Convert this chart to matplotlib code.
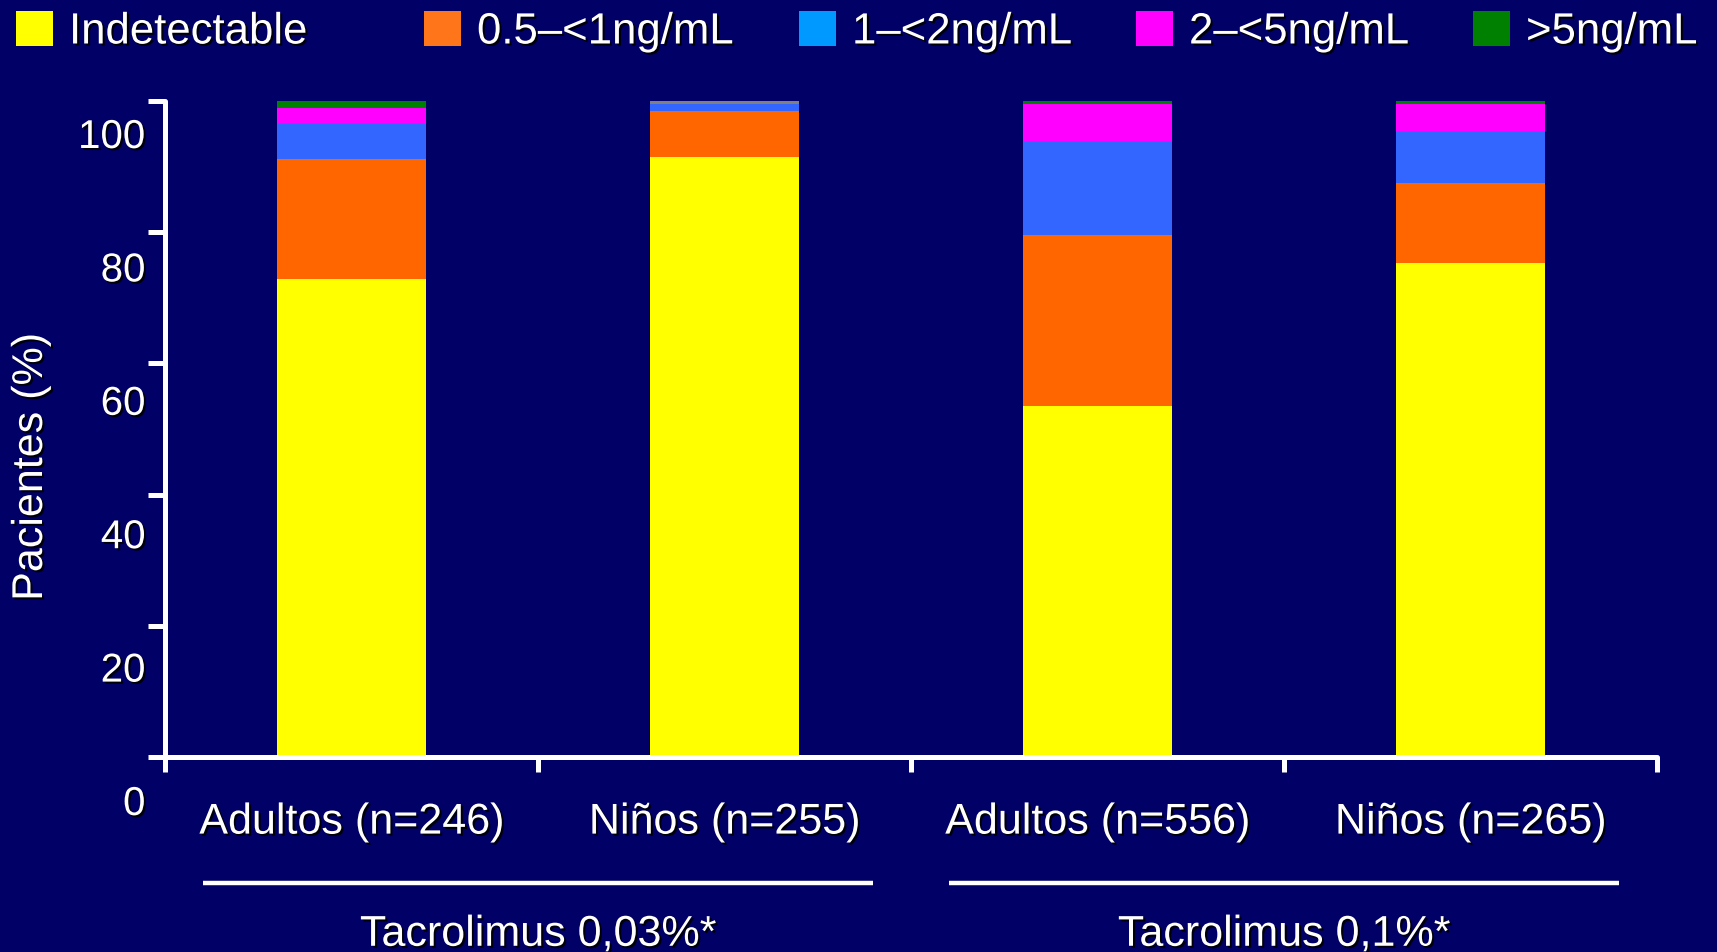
import matplotlib
matplotlib.use("Agg")
import matplotlib.pyplot as plt
import matplotlib.patheffects as pe
from matplotlib.patches import Rectangle
from matplotlib.transforms import ScaledTranslation, blended_transform_factory

# ---------------- Data ---------------- #
categories = ["Adultos (n=246)", "Niños (n=255)", "Adultos (n=556)", "Niños (n=265)"]
groups = ["Tacrolimus 0,03%*", "Tacrolimus 0,1%*"]
levels = ["Indetectable", "0.5\u2013<1ng/mL", "1\u2013<2ng/mL", "2\u2013<5ng/mL", ">5ng/mL"]

indetectable = [72.8, 91.5, 53.5, 75.3]
lvl_05_1 = [18.3, 7.0, 26.1, 12.2]
lvl_1_2 = [5.5, 1.0, 14.3, 8.0]
lvl_2_5 = [2.3, 0.5, 5.6, 4.0]
lvl_over5 = [1.1, 0.0, 0.5, 0.5]

yticks = [0, 20, 40, 60, 80, 100]

# ---------------- Style ---------------- #
BG = "#000066"
FONT = ["Liberation Sans", "DejaVu Sans"]
bar_colors = ["#FFFF00", "#FF6600", "#3366FF", "#FF00FF", "#008000"]
legend_colors = ["#FFFF00", "#FF751A", "#0099FF", "#FF00FF", "#008000"]
# one segment in the second bar is drawn grey
seg_override = {(1, 3): "#808080"}

plt.rcParams["font.family"] = FONT
shadow = [pe.withSimplePatchShadow(offset=(1.5, -1.5), shadow_rgbFace="black", alpha=0.9)]

W, H = 1717, 952
fig = plt.figure(figsize=(W / 100, H / 100), dpi=100, facecolor=BG)
ax = fig.add_axes([165 / W, 1 - 757 / H, (1657 - 165) / W, (757 - 101) / H], facecolor=BG)

series = [indetectable, lvl_05_1, lvl_1_2, lvl_2_5, lvl_over5]
x = list(range(len(categories)))
bottom = [0.0] * len(categories)
for si, vals in enumerate(series):
    cols = [seg_override.get((i, si), bar_colors[si]) for i in x]
    ax.bar(x, vals, width=0.402, bottom=bottom, color=cols, linewidth=0, zorder=2)
    bottom = [b + v for b, v in zip(bottom, vals)]

ax.set_xlim(-0.5, len(categories) - 0.5)
ax.set_ylim(0, 100)

for side in ["top", "right"]:
    ax.spines[side].set_visible(False)
for side in ["left", "bottom"]:
    ax.spines[side].set_color("white")
    ax.spines[side].set_linewidth(3.6)
    ax.spines[side].set_capstyle("round")
    ax.spines[side].set_zorder(3)

# category boundaries as x ticks, no labels
ax.set_xticks([i - 0.5 for i in range(len(categories) + 1)])
ax.set_xticklabels([])
ax.tick_params(axis="x", direction="out", length=11, width=3.6, color="white")

ax.set_yticks(yticks)
ax.set_yticklabels([str(v) for v in yticks])
ax.tick_params(axis="y", direction="out", length=12, width=3.6, color="white",
               labelcolor="white", labelsize=29, pad=2)
for lab, v in zip(ax.get_yticklabels(), yticks):
    off = (32 + (100 - v) * 0.11) / 100
    lab.set_transform(lab.get_transform() + ScaledTranslation(0, -off, fig.dpi_scale_trans))
    lab.set_path_effects(shadow)

fig.text(31 / W, 1 - 467 / H, "Pacientes (%)", rotation=90, ha="center", va="center",
         color="white", fontsize=31, path_effects=shadow)

# category labels under the bars
tr = blended_transform_factory(ax.transData, ax.transAxes)
for i, c in enumerate(categories):
    ax.text(i, -0.1, c, transform=tr, ha="center", va="center", color="white",
            fontsize=31, clip_on=False, path_effects=shadow)

# group lines and labels
for gi, g in enumerate(groups):
    center = 2 * gi + 0.5
    ax.plot([center - 0.898, center + 0.898], [-0.192, -0.192], transform=tr,
            color="white", linewidth=3.2, clip_on=False, solid_capstyle="butt")
    ax.text(center, -0.271, g, transform=tr, ha="center", va="center", color="white",
            fontsize=31, clip_on=False, path_effects=shadow)

# legend row across the top
sq_left = [16, 424, 799, 1136, 1473]
for xl, lab, col in zip(sq_left, levels, legend_colors):
    fig.patches.append(Rectangle((xl / W, 1 - 46 / H), 37 / W, 35 / H, transform=fig.transFigure,
                                 facecolor=col, edgecolor="none"))
    fig.text((xl + 53) / W, 1 - 32 / H, lab, ha="left", va="center", color="white",
             fontsize=31.5, path_effects=shadow)

fig.savefig("out.png", dpi=100, facecolor=BG)
